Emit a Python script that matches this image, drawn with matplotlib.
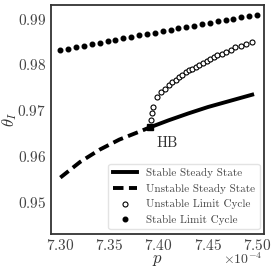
import numpy as np
import matplotlib
matplotlib.use('Agg')
import matplotlib.pyplot as plt

plt.rcParams['font.family'] = 'serif'
plt.rcParams['font.serif'] = ['cmr10']
plt.rcParams['mathtext.fontset'] = 'cm'
plt.rcParams['axes.unicode_minus'] = False
plt.rcParams['axes.formatter.use_mathtext'] = True

# branches, p in units of 1e-4
stable_ss_p = [7.3915, 7.41, 7.43, 7.45, 7.47, 7.495]
stable_ss_t = [0.9663, 0.9678, 0.9693, 0.9707, 0.9719, 0.9734]

unstable_ss_p = [7.30, 7.32, 7.34, 7.36, 7.38, 7.3915]
unstable_ss_t = [0.9553, 0.9587, 0.9614, 0.9636, 0.9653, 0.9663]

unstable_lc_p = [7.3918, 7.3929, 7.3942, 7.3983, 7.4027, 7.4065, 7.4100, 7.4136,
                 7.4173, 7.4207, 7.4240, 7.4276, 7.4310, 7.4340, 7.4378, 7.4410,
                 7.4452, 7.4487, 7.4520, 7.4560, 7.4595, 7.4640, 7.4684, 7.4730,
                 7.4780, 7.4834, 7.4888, 7.4950]
unstable_lc_t = [0.9679, 0.9695, 0.9708, 0.9728, 0.9740, 0.9747, 0.9755, 0.9761,
                 0.9767, 0.9772, 0.9777, 0.9783, 0.9787, 0.9791, 0.9794, 0.9799,
                 0.9803, 0.9807, 0.9812, 0.9816, 0.9820, 0.9823, 0.9828, 0.9832,
                 0.9837, 0.9841, 0.9845, 0.9848]

stable_lc_p = [7.300, 7.308, 7.316, 7.324, 7.332, 7.340, 7.348, 7.356, 7.364,
               7.372, 7.380, 7.388, 7.396, 7.404, 7.412, 7.420, 7.428, 7.436,
               7.444, 7.452, 7.460, 7.468, 7.476, 7.484, 7.492, 7.500]
stable_lc_t = [0.98310, 0.98343, 0.98376, 0.98408, 0.98440, 0.98472, 0.98505,
               0.98536, 0.98568, 0.98600, 0.98632, 0.98663, 0.98694, 0.98726,
               0.98757, 0.98788, 0.98818, 0.98849, 0.98880, 0.98910, 0.98940,
               0.98971, 0.99001, 0.99031, 0.99060, 0.99090]

hb_p = 7.3915
hb_t = 0.9663

scale = 1e-4

fig = plt.figure(figsize=(2.73, 2.72), dpi=100)
ax = fig.add_axes([0.185, 0.14, 0.782, 0.842])

ax.plot(np.array(stable_ss_p) * scale, stable_ss_t, 'k-', lw=2.8,
        label='Stable Steady State')
ax.plot(np.array(unstable_ss_p) * scale, unstable_ss_t, 'k--', lw=2.8,
        dashes=(2.7, 1.4), label='Unstable Steady State')
ax.plot(np.array(unstable_lc_p) * scale, unstable_lc_t, 'o', ms=3.6,
        mfc='white', mec='k', mew=0.8, label='Unstable Limit Cycle')
ax.plot(np.array(stable_lc_p) * scale, stable_lc_t, 'o', ms=3.3,
        color='k', label='Stable Limit Cycle')
ax.plot([hb_p * scale], [hb_t], 's', color='k', ms=5)
ax.text(7.409 * scale, 0.9629, 'HB', fontsize=10.5, ha='center', va='center',
        color='#333333')

ax.set_xlim(7.29e-4, 7.507e-4)
ax.set_ylim(0.943, 0.993)
ax.set_xticks(np.array([7.30, 7.35, 7.40, 7.45, 7.50]) * scale)
ax.set_yticks([0.95, 0.96, 0.97, 0.98, 0.99])
ax.ticklabel_format(axis='x', style='sci', scilimits=(0, 0))
ax.tick_params(length=0, labelsize=11, labelcolor='#444444', pad=3)
# offset text drawn by hand so it sits right under the tick labels
ax.xaxis.get_offset_text().set_visible(False)
fig.text(0.963, 0.074, r'$\times10^{-4}$', fontsize=10, color='#444444',
         ha='right', va='top')

for s in ax.spines.values():
    s.set_color('#333333')
    s.set_linewidth(1.3)

ax.set_xlabel('$p$', fontsize=12, color='#333333', labelpad=0)
ax.set_ylabel(r'$\theta_I$', fontsize=12, color='#333333')
ax.yaxis.set_label_coords(-0.148, 0.5)

leg = ax.legend(loc='lower right', fontsize=8, frameon=True,
                borderaxespad=0.4, handlelength=2.2, labelspacing=0.5)
leg.get_frame().set_edgecolor('#dddddd')
for t in leg.get_texts():
    t.set_color('#444444')

fig.savefig('out.png', dpi=100)
